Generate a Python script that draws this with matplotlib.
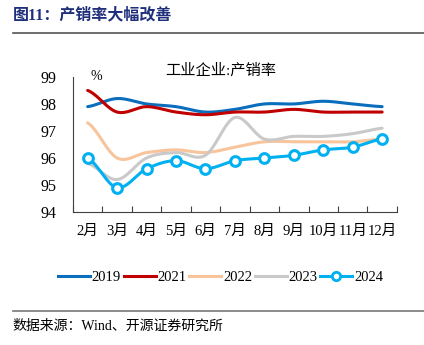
import numpy as np
import matplotlib.pyplot as plt
from matplotlib.lines import Line2D

plt.rcParams['font.family'] = ['Liberation Serif', 'Noto Sans CJK SC']

months = ['2月', '3月', '4月', '5月', '6月', '7月', '8月', '9月', '10月', '11月', '12月']
y2019 = [97.9, 98.2, 98.0, 97.9, 97.7, 97.8, 98.0, 98.0, 98.1, 98.0, 97.9]
y2021 = [98.5, 97.7, 97.9, 97.7, 97.6, 97.7, 97.7, 97.8, 97.7, 97.7, 97.7]
y2022 = [97.3, 96.0, 96.2, 96.3, 96.2, 96.4, 96.6, 96.6, 96.6, 96.6, 96.7]
y2023 = [95.8, 95.2, 96.0, 96.2, 96.1, 97.5, 96.7, 96.8, 96.8, 96.9, 97.1]
y2024 = [96.0, 94.9, 95.6, 95.9, 95.6, 95.9, 96.0, 96.1, 96.3, 96.4, 96.7]


def smooth(y, n=20):
    # catmull-rom style curve through the points (like excel smoothed lines)
    y = np.asarray(y, float)
    p = np.concatenate([[y[0]], y, [y[-1]]])
    xs, ys = [], []
    for i in range(len(y) - 1):
        p0, p1, p2, p3 = p[i], p[i + 1], p[i + 2], p[i + 3]
        t = np.linspace(0, 1, n, endpoint=False)
        v = 0.5 * (2 * p1 + (-p0 + p2) * t + (2 * p0 - 5 * p1 + 4 * p2 - p3) * t ** 2
                   + (-p0 + 3 * p1 - 3 * p2 + p3) * t ** 3)
        xs.append(i + t)
        ys.append(v)
    xs.append([len(y) - 1])
    ys.append([y[-1]])
    return np.concatenate(xs), np.concatenate(ys)


fig = plt.figure(figsize=(4.24, 3.45), dpi=100)
ax = fig.add_axes([0.172, 0.3855, 0.764, 0.3915])

x = np.arange(len(months))
series = [(y2019, '#0A6EBD', '2019'), (y2021, '#C00000', '2021'),
          (y2022, '#F8C49C', '2022'), (y2023, '#C9C9C9', '2023')]
for ys, c, lab in series:
    sx, sy = smooth(ys)
    ax.plot(sx, sy, color=c, lw=2.2, solid_capstyle='round')
sx, sy = smooth(y2024)
ax.plot(sx, sy, color='#00B0F0', lw=2.2)
ax.plot(x, y2024, 'o', ms=7, mfc='white', mec='#00B0F0', mew=2.2)

ax.set_xlim(-0.5, 10.5)
ax.set_ylim(94, 99)
ax.set_yticks([94, 95, 96, 97, 98, 99])
ax.set_xticks(np.arange(-0.5, 11, 1))
ax.set_xticklabels([])
ax.set_xticks(x, minor=True)
ax.set_xticklabels(months, minor=True)
ax.tick_params(axis='x', which='major', direction='in', length=4, color='#404040')
ax.tick_params(axis='x', which='minor', length=0, pad=9, labelsize=10.5)
ax.tick_params(axis='y', length=0, labelsize=11.5, pad=12)
for s in ['top', 'right']:
    ax.spines[s].set_visible(False)
ax.spines['left'].set_color('#404040')
ax.spines['bottom'].set_color('#404040')

fig.text(0.52, 0.795, '工业企业:产销率', ha='center', va='center', fontsize=11)
fig.text(0.228, 0.777, '%', ha='center', va='center', fontsize=10)

handles = [Line2D([], [], color=c, lw=2.2) for _, c, _ in series]
handles.append(Line2D([], [], color='#00B0F0', lw=2.2, marker='o', ms=6,
                      mfc='white', mec='#00B0F0', mew=2))
fig.legend(handles, ['2019', '2021', '2022', '2023', '2024'], loc='center',
           bbox_to_anchor=(0.52, 0.195), ncol=5, frameon=False, fontsize=10.5,
           handlelength=2.2, handletextpad=0.1, columnspacing=0.2)

fig.text(0.03, 0.955, '图11：产销率大幅改善', ha='left', va='center', fontsize=11.5,
         fontweight='bold', color='#1F2F7A')
fig.add_artist(Line2D([0.03, 1.0], [0.905, 0.905], color='#555555', lw=1.2))
fig.add_artist(Line2D([0.03, 1.0], [0.1, 0.1], color='#777777', lw=1.2))
fig.text(0.03, 0.055, '数据来源：Wind、开源证券研究所', ha='left', va='center', fontsize=10)

fig.savefig('out.png', dpi=100)
